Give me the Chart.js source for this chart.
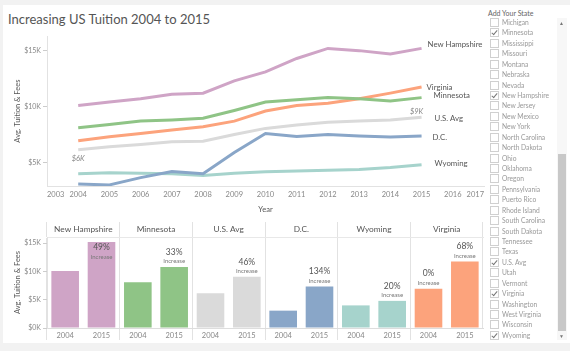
<!DOCTYPE html>
<html>
<head>
<meta charset="utf-8">
<script src="https://cdn.jsdelivr.net/npm/chart.js@4.4.1/dist/chart.umd.min.js"></script>
<style>
  body { margin: 0; width: 570px; height: 351px; background: #f2f2f2; font-family: Lato, sans-serif; overflow: hidden; position: relative; }
  #card { position: absolute; left: 3px; top: 5px; width: 567px; height: 338px; background: #fff; }
  #title { position: absolute; left: 8px; top: 11px; font-size: 13px; color: #555; white-space: nowrap; }
  canvas { position: absolute; }
  #lineChart { left: 0; top: 30px; }
  #barChart { left: 0; top: 218px; }
  #filterTitle { position: absolute; left: 488px; top: 9px; font-size: 7px; color: #666; }
  .item { position: absolute; left: 490px; height: 10px; font-size: 6.7px; color: #999; line-height: 10px; white-space: nowrap; }
  .box { position: absolute; left: 0; top: 1px; width: 7px; height: 7px; border: 1px solid #d0d0d0; background: #fff; }
  .item.on .box::after { content: ""; position: absolute; left: 2px; top: 0px; width: 2px; height: 5px; border: solid #777; border-width: 0 1px 1px 0; transform: rotate(40deg); }
  .item span { position: absolute; left: 12px; top: 0; }
  #track { position: absolute; left: 557px; top: 18px; width: 10px; height: 322px; background: #f7f7f7; }
  #thumb { position: absolute; left: 558px; top: 154px; width: 8px; height: 177px; background: #c8c8c8; }
  .arrow { position: absolute; left: 559px; font-size: 5px; color: #777; }
</style>
</head>
<body>
<div id="card"></div>
<div id="title">Increasing US Tuition 2004 to 2015</div>
<canvas id="lineChart" width="492" height="190"></canvas>
<canvas id="barChart" width="492" height="125"></canvas>
<div id="filterTitle">Add Your State</div>
<div id="filter"></div>
<div id="track"></div>
<div id="thumb"></div>
<div class="arrow" style="top:20px">▲</div>
<div class="arrow" style="top:333px">▼</div>

<script>
// data
const years = [2004, 2005, 2006, 2007, 2008, 2009, 2010, 2011, 2012, 2013, 2014, 2015];
const stateNames = ["New Hampshire", "Minnesota", "U.S. Avg", "D.C.", "Wyoming", "Virginia"];
const nhTuition = [10100, 10400, 10700, 11100, 11200, 12300, 13100, 14300, 15200, 15000, 14700, 15200];
const mnTuition = [8100, 8400, 8700, 8800, 8950, 9650, 10400, 10600, 10800, 10700, 10500, 10800];
const usTuition = [6150, 6400, 6600, 6850, 6900, 7500, 8050, 8350, 8600, 8700, 8800, 9050];
const dcTuition = [3070, 3000, 3650, 4200, 4000, 5900, 7600, 7330, 7500, 7360, 7270, 7360];
const wyTuition = [4000, 4080, 4030, 4000, 3830, 4050, 4170, 4230, 4300, 4370, 4550, 4800];
const vaTuition = [6950, 7300, 7600, 7900, 8200, 8700, 9600, 10100, 10300, 10700, 11200, 11750];
const barYears = ["2004", "2015"];
const increaseLabels = ["", "49%", "", "33%", "", "46%", "", "134%", "", "20%", "0%", "68%"];
const yTicks = [5000, 10000, 15000];
const barTicks = [0, 5000, 10000, 15000];

const filterStates = ["Michigan", "Minnesota", "Mississippi", "Missouri", "Montana", "Nebraska", "Nevada",
  "New Hampshire", "New Jersey", "New Mexico", "New York", "North Carolina", "North Dakota", "Ohio",
  "Oklahoma", "Oregon", "Pennsylvania", "Puerto Rico", "Rhode Island", "South Carolina", "South Dakota",
  "Tennessee", "Texas", "U.S. Avg", "Utah", "Vermont", "Virginia", "Washington", "West Virginia",
  "Wisconsin", "Wyoming"];
const checkedStates = ["Minnesota", "New Hampshire", "U.S. Avg", "Virginia", "Wyoming"];

const tuitionByState = [nhTuition, mnTuition, usTuition, dcTuition, wyTuition, vaTuition];
const stateColors = ["#cfa4c6", "#8fc486", "#dadada", "#89a6c8", "#a6d3cc", "#fca37c"];
// label offsets next to the line ends (dx, dy)
const endNudge = [[6, -4], [12, -2], [13, 1], [11, 1], [13, -1], [5, 0]];

Chart.defaults.font.family = "Lato, sans-serif";
Chart.defaults.animation = false;

const money = v => "$" + Math.round(v / 1000) + "K";

// filter list
const filter = document.getElementById("filter");
filterStates.forEach((name, i) => {
  const div = document.createElement("div");
  div.className = "item" + (checkedStates.includes(name) ? " on" : "");
  div.style.top = (17 + i * 10.43) + "px";
  div.innerHTML = `<div class="box"></div><span>${name}</span>`;
  filter.appendChild(div);
});

// labels at line ends + $6K / $9K
const lineLabels = {
  id: "lineLabels",
  afterDatasetsDraw(chart) {
    const ctx = chart.ctx;
    ctx.save();
    ctx.textBaseline = "middle";
    chart.data.datasets.forEach((ds, i) => {
      const pts = chart.getDatasetMeta(i).data;
      const last = pts[pts.length - 1];
      ctx.font = "7.8px Lato, sans-serif";
      ctx.fillStyle = "#555";
      ctx.textAlign = "left";
      ctx.fillText(ds.label, last.x + endNudge[i][0], last.y + endNudge[i][1]);
    });
    const usPts = chart.getDatasetMeta(2).data;
    ctx.font = "italic 7.5px Lato, sans-serif";
    ctx.fillStyle = "#888";
    ctx.textAlign = "center";
    ctx.fillText(money(usTuition[0]), usPts[0].x, usPts[0].y + 9);
    const e = usPts[usPts.length - 1];
    ctx.fillText(money(usTuition[usTuition.length - 1]), e.x - 5, e.y - 6);
    ctx.restore();
  }
};

new Chart(document.getElementById("lineChart"), {
  type: "line",
  data: {
    datasets: stateNames.map((name, i) => ({
      label: name,
      data: years.map((y, j) => ({ x: y, y: tuitionByState[i][j] })),
      borderColor: stateColors[i],
      borderWidth: 3,
      pointRadius: 0,
      tension: 0
    }))
  },
  options: {
    responsive: false,
    layout: { padding: { top: 2, right: 8, left: 0, bottom: 0 } },
    plugins: { legend: { display: false }, tooltip: { enabled: false } },
    scales: {
      x: {
        type: "linear", min: 2003, max: 2017,
        afterFit: s => { s.height = 34; },
        ticks: { stepSize: 1, align: "inner", padding: 4, color: "#888", font: { size: 7.5 }, callback: v => String(v), maxRotation: 0, autoSkip: false },
        grid: { display: false, drawTicks: false },
        border: { display: true, color: "#e2e2e2" },
        title: { display: true, text: "Year", color: "#555", font: { size: 7.5 }, padding: { top: 0, bottom: 6 } }
      },
      y: {
        min: 2900, max: 16290,
        afterFit: s => { s.width = 47; },
        afterBuildTicks: s => { s.ticks = yTicks.map(v => ({ value: v })); },
        ticks: { color: "#888", font: { size: 7 }, padding: 2, callback: v => money(v) },
        grid: { drawOnChartArea: false, tickLength: 4, color: "#ccc" },
        border: { display: true, color: "#e2e2e2" },
        title: { display: true, text: "Avg. Tuition & Fees", color: "#555", font: { size: 7.5 }, padding: { top: 13, bottom: 0 } }
      }
    }
  },
  plugins: [lineLabels]
});

// bar panel: 2004 vs 2015 per state
const barLabels = [];
const barValues = [];
const barColors = [];
stateNames.forEach((name, i) => {
  const vals = tuitionByState[i];
  barLabels.push(barYears[0], barYears[1]);
  barValues.push(vals[0], vals[vals.length - 1]);
  barColors.push(stateColors[i], stateColors[i]);
});

const increaseText = {
  id: "increaseText",
  afterDatasetsDraw(chart) {
    const ctx = chart.ctx;
    const top = chart.chartArea.top;
    ctx.save();
    ctx.textAlign = "center";
    ctx.textBaseline = "middle";
    chart.getDatasetMeta(0).data.forEach((bar, i) => {
      const txt = increaseLabels[i];
      if (!txt) return;
      let y1 = bar.y - 15, y2 = bar.y - 5.5;
      if (y1 - 5 < top) { y1 = bar.y + 5.5; y2 = bar.y + 14.5; }
      ctx.fillStyle = "#555";
      ctx.font = "8.5px Lato, sans-serif";
      ctx.fillText(txt, bar.x, y1);
      ctx.fillStyle = "#777";
      ctx.font = "6px Lato, sans-serif";
      ctx.fillText("Increase", bar.x, y2);
    });
    ctx.restore();
  }
};

new Chart(document.getElementById("barChart"), {
  type: "bar",
  data: {
    labels: barLabels,
    datasets: [{ data: barValues, backgroundColor: barColors, borderWidth: 0, barPercentage: 0.76, categoryPercentage: 1 }]
  },
  options: {
    responsive: false,
    layout: { padding: { top: 4, right: 9, left: 0, bottom: 0 } },
    plugins: { legend: { display: false }, tooltip: { enabled: false } },
    scales: {
      x: {
        offset: true,
        afterFit: s => { s.height = 15; },
        ticks: { color: "#888", font: { size: 7.5 }, padding: -8.5, maxRotation: 0, autoSkip: false },
        grid: { offset: true, drawOnChartArea: false, tickLength: 12, color: c => (c.index % 2 === 0 ? "#e2e2e2" : "rgba(0,0,0,0)") },
        border: { display: true, color: "#ddd" }
      },
      x2: {
        type: "category", position: "top", labels: stateNames, offset: true,
        afterFit: s => { s.height = 15; },
        ticks: { color: "#555", font: { size: 8.3 }, padding: -12, maxRotation: 0, autoSkip: false },
        grid: { offset: true, drawOnChartArea: true, tickLength: 15, color: "#e2e2e2" },
        border: { display: true, color: "#e8e8e8" }
      },
      y: {
        min: 0, max: 16100,
        afterFit: s => { s.width = 47; },
        afterBuildTicks: s => { s.ticks = barTicks.map(v => ({ value: v })); },
        ticks: { color: "#888", font: { size: 7 }, padding: 2, callback: v => money(v) },
        grid: { drawOnChartArea: false, tickLength: 4, color: "#ccc" },
        border: { display: true, color: "#e2e2e2" },
        title: { display: true, text: "Avg. Tuition & Fees", color: "#555", font: { size: 7.5 }, padding: { top: 13, bottom: 0 } }
      }
    }
  },
  plugins: [increaseText]
});
</script>
</body>
</html>
